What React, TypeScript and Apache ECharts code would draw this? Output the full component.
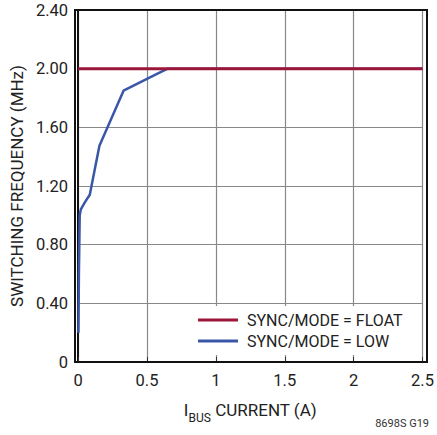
import React, { useEffect, useRef } from "react";
import * as echarts from "echarts";

const floatX: number[] = [0, 2.5];
const floatY: number[] = [2.0, 2.0];
const lowX: number[] = [0.003, 0.006, 0.012, 0.02, 0.05, 0.085, 0.155, 0.33, 0.5, 0.65, 2.5];
const lowY: number[] = [0.2, 0.6, 1.0, 1.04, 1.09, 1.14, 1.475, 1.85, 1.93, 2.0, 2.0];
const xTicks: number[] = [0, 0.5, 1, 1.5, 2, 2.5];
const yTicks: number[] = [0, 0.4, 0.8, 1.2, 1.6, 2.0, 2.4];
const seriesNames: string[] = ["SYNC/MODE = FLOAT", "SYNC/MODE = LOW"];

const FONT = "Roboto, 'Liberation Sans', sans-serif";

export default function App() {
  const ref = useRef<HTMLDivElement>(null);
  useEffect(() => {
    document.body.style.margin = "0";
    const chart = echarts.init(ref.current!, null, { renderer: "svg" });
    const zip = (xs: number[], ys: number[]) => xs.map((x, i) => [x, ys[i]]);
    chart.setOption({
      animation: false,
      backgroundColor: "#fff",
      grid: { left: 75, right: 10, top: 10, bottom: 73, containLabel: false },
      xAxis: {
        type: "value",
        min: xTicks[0],
        max: xTicks[xTicks.length - 1],
        interval: 0.5,
        name: "{i|I}{s|BUS}{n| CURRENT (A)}",
        nameLocation: "middle",
        nameGap: 36,
        nameTextStyle: {
          rich: {
            i: { fontSize: 17, fontFamily: FONT, color: "#222", verticalAlign: "bottom", lineHeight: 20 },
            s: { fontSize: 12, fontFamily: FONT, color: "#222", verticalAlign: "bottom", lineHeight: 14, padding: [0, 0, -6, 0] },
            n: { fontSize: 17, fontFamily: FONT, color: "#222", verticalAlign: "bottom", lineHeight: 20 },
          },
        },
        axisLine: { show: true, onZero: false, lineStyle: { color: "#111", width: 2 } },
        axisTick: { show: true, inside: true, length: 5, lineStyle: { color: "#333", width: 1 } },
        axisLabel: {
          margin: 10,
          fontSize: 16.5,
          fontFamily: FONT,
          color: "#222",
          formatter: (v: number) => String(v),
        },
        splitLine: { show: true, lineStyle: { color: "#888", width: 1.2 } },
      },
      yAxis: {
        type: "value",
        min: yTicks[0],
        max: yTicks[yTicks.length - 1],
        interval: 0.4,
        name: "SWITCHING FREQUENCY (MHz)",
        nameLocation: "middle",
        nameGap: 53,
        nameTextStyle: { fontSize: 17, fontFamily: FONT, color: "#222" },
        axisLine: { show: true, onZero: false, lineStyle: { color: "#111", width: 2 } },
        axisTick: { show: false },
        axisLabel: {
          margin: 10,
          fontSize: 16.5,
          fontFamily: FONT,
          color: "#222",
          formatter: (v: number) => (v === 0 ? "0" : v.toFixed(2)),
        },
        splitLine: { show: true, lineStyle: { color: "#888", width: 1.2 } },
      },
      legend: {
        orient: "vertical",
        left: 190,
        top: 306,
        padding: [6, 12, 6, 8],
        itemGap: 5,
        itemWidth: 40,
        itemHeight: 3,
        backgroundColor: "#fff",
        textStyle: { fontSize: 16, fontFamily: FONT, color: "#222", padding: [0, 0, 0, 4] },
        data: [
          { name: seriesNames[0], icon: "rect" },
          { name: seriesNames[1], icon: "rect" },
        ],
      },
      graphic: [
        {
          type: "rect",
          shape: { x: 75, y: 10, width: 352, height: 352 },
          style: { fill: "none", stroke: "#111", lineWidth: 2 },
          z: 10,
          silent: true,
        },
        {
          type: "text",
          right: 8,
          top: 418,
          style: { text: "8698S G19", fontSize: 11, fontFamily: FONT, fill: "#333" },
        },
      ],
      series: [
        {
          name: seriesNames[1],
          type: "line",
          data: zip(lowX, lowY),
          symbol: "none",
          lineStyle: { color: "#3a56a8", width: 2.5 },
          itemStyle: { color: "#3a56a8" },
          z: 3,
        },
        {
          name: seriesNames[0],
          type: "line",
          data: zip(floatX, floatY),
          symbol: "none",
          lineStyle: { color: "#9c1639", width: 3 },
          itemStyle: { color: "#9c1639" },
          z: 4,
        },
      ],
    });
    return () => chart.dispose();
  }, []);
  return <div ref={ref} style={{ width: 437, height: 435 }} />;
}
